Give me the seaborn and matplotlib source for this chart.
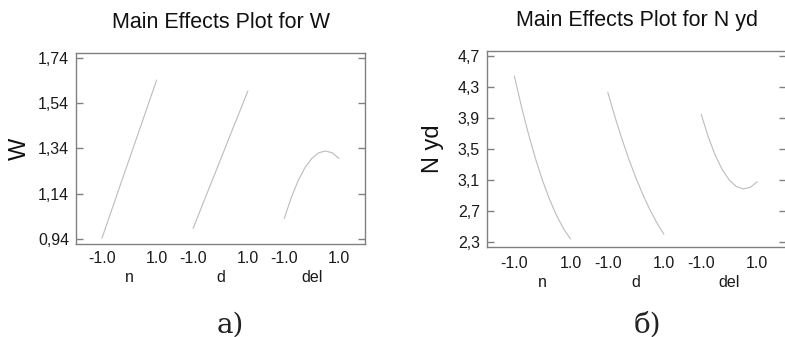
import numpy as np
import pandas as pd
import matplotlib
matplotlib.use("Agg")
import matplotlib.pyplot as plt
import seaborn as sns

# ---------------- data ----------------
factors = ["n", "d", "del"]
levels = [-1.0, -0.75, -0.5, -0.25, 0.0, 0.25, 0.5, 0.75, 1.0]

w_n = [0.943, 1.030, 1.118, 1.205, 1.292, 1.379, 1.466, 1.554, 1.641]
w_d = [0.987, 1.063, 1.139, 1.214, 1.290, 1.366, 1.442, 1.517, 1.593]
w_del = [1.031, 1.122, 1.196, 1.254, 1.295, 1.320, 1.328, 1.320, 1.295]

nyd_n = [4.439, 4.049, 3.697, 3.380, 3.100, 2.856, 2.649, 2.477, 2.342]
nyd_d = [4.229, 3.920, 3.633, 3.370, 3.130, 2.914, 2.720, 2.550, 2.403]
nyd_del = [3.946, 3.657, 3.420, 3.234, 3.100, 3.017, 2.986, 3.007, 3.079]

w_ticks = [0.94, 1.14, 1.34, 1.54, 1.74]
w_ticklabels = ["0,94", "1,14", "1,34", "1,54", "1,74"]
nyd_ticks = [2.3, 2.7, 3.1, 3.5, 3.9, 4.3, 4.7]
nyd_ticklabels = ["2,3", "2,7", "3,1", "3,5", "3,9", "4,3", "4,7"]
x_ticklabels = ["-1.0", "1.0"]

titles = ["Main Effects Plot for W", "Main Effects Plot for N yd"]
ylabels = ["W", "N yd"]
captions = ["а)", "б)"]

# ---------------- style ----------------
sns.set_theme(style="white")
plt.rcParams["font.family"] = ["Liberation Sans", "DejaVu Sans"]

SPACING = 3.33
LINE_COLOR = "#bcbcbc"
SPINE_COLOR = "#808080"
TXT = "#1a1a1a"


def build_df(series):
    rows = []
    for gi, (fac, vals) in enumerate(zip(factors, series)):
        for lv, v in zip(levels, vals):
            rows.append({"factor": fac, "pos": gi * SPACING + lv, "value": v})
    return pd.DataFrame(rows)


fig = plt.figure(figsize=(7.85, 3.37), dpi=100)
W, H = 785.0, 337.0
# axes boxes in pixels: (left, top, right, bottom)
boxes = [(76, 53, 365, 244), (486.7, 50.7, 786.5, 246.7)]
xlims = [(-1.945, 2 * SPACING + 1.945), (-1.985, 2 * SPACING + 2.04)]
ylims = [(0.918, 1.760), (2.243, 4.764)]
yticks = [w_ticks, nyd_ticks]
yticklabels = [w_ticklabels, nyd_ticklabels]
data = [[w_n, w_d, w_del], [nyd_n, nyd_d, nyd_del]]
tick_pads = [5.0, 6.5]
name_offsets = [-24, -25.5]
title_offsets = [21.6, 22.0]
ylabel_x = [-0.195, -0.18]
caption_pos = [(230.5, 325), (647, 325)]

for i in range(2):
    l, t, r, b = boxes[i]
    ax = fig.add_axes([l / W, 1 - b / H, (r - l) / W, (b - t) / H])
    df = build_df(data[i])
    sns.lineplot(data=df, x="pos", y="value", units="factor", estimator=None,
                 color=LINE_COLOR, lw=0.8, ax=ax, legend=False)
    ax.set_xlim(*xlims[i])
    ax.set_ylim(*ylims[i])

    xt = []
    xl = []
    for gi in range(3):
        xt += [gi * SPACING - 1.0, gi * SPACING + 1.0]
        xl += x_ticklabels
    ax.set_xticks(xt)
    ax.set_xticklabels(xl, fontsize=11.5, color=TXT)
    ax.tick_params(axis="x", length=0, pad=tick_pads[i])

    ax.set_yticks(yticks[i])
    ax.set_yticklabels(yticklabels[i], fontsize=11.5, color=TXT)
    ax.tick_params(axis="y", direction="in", length=5, width=1,
                   color=SPINE_COLOR, left=True, right=True, pad=5.0)

    for s in ax.spines.values():
        s.set_color(SPINE_COLOR)
        s.set_linewidth(1.0)

    ax.set_xlabel("")
    ax.set_ylabel(ylabels[i], fontsize=17, color="#111111")
    ax.yaxis.label.set_va("center")
    ax.yaxis.set_label_coords(ylabel_x[i], 0.5)

    for gi, fac in enumerate(factors):
        ax.annotate(fac, xy=(gi * SPACING, 0), xycoords=("data", "axes fraction"),
                    xytext=(0, name_offsets[i]), textcoords="offset points",
                    ha="center", va="center", fontsize=11.5, color=TXT)

    ax.annotate(titles[i], xy=(0.5, 1), xycoords="axes fraction",
                xytext=(0, title_offsets[i]), textcoords="offset points",
                ha="center", va="center", fontsize=15.5, color="#111111")

    cx, cy = caption_pos[i]
    fig.text(cx / W, 1 - cy / H, captions[i], ha="center", va="center",
             fontsize=20, family=["DejaVu Serif"], color="#222222")

fig.savefig("out.png", dpi=100)
